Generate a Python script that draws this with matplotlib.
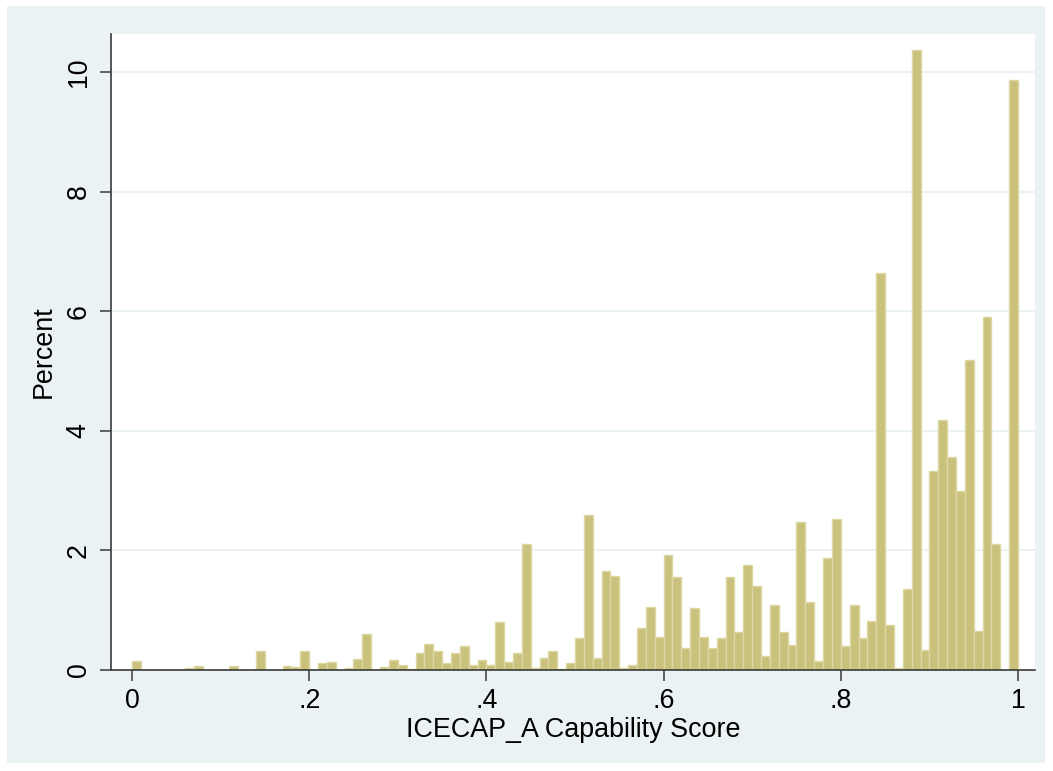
import numpy as np
import matplotlib
matplotlib.use("Agg")
import matplotlib.pyplot as plt
from matplotlib.patches import Rectangle

# Percent per bin (bins of width 0.01 from 0 to 1)
percent = [
    0.15, 0, 0, 0, 0, 0, 0.03, 0.07, 0, 0,
    0, 0.07, 0, 0, 0.31, 0, 0, 0.07, 0.045, 0.31,
    0, 0.12, 0.14, 0, 0.03, 0.18, 0.60, 0, 0.05, 0.16,
    0.09, 0.02, 0.28, 0.43, 0.32, 0.12, 0.28, 0.40, 0.08, 0.16,
    0.09, 0.81, 0.13, 0.29, 2.11, 0.04, 0.20, 0.32, 0.02, 0.11,
    0.54, 2.60, 0.20, 1.65, 1.57, 0.04, 0.09, 0.70, 1.05, 0.56,
    1.93, 1.55, 0.37, 1.03, 0.56, 0.37, 0.54, 1.55, 0.63, 1.76,
    1.41, 0.24, 1.09, 0.63, 0.42, 2.47, 1.14, 0.15, 1.88, 2.52,
    0.40, 1.08, 0.54, 0.82, 6.65, 0.75, 0.03, 1.36, 10.37, 0.33,
    3.33, 4.19, 3.56, 3.00, 5.19, 0.66, 5.90, 2.11, 0, 9.87,
]
x_range = (0.0, 1.0)
x_ticks = [0, 0.2, 0.4, 0.6, 0.8, 1.0]
x_ticklabels = ["0", ".2", ".4", ".6", ".8", "1"]
y_ticks = [0, 2, 4, 6, 8, 10]
y_ticklabels = ["0", "2", "4", "6", "8", "10"]
x_label = "ICECAP_A Capability Score"
y_label = "Percent"

plt.rcParams['font.family'] = ['Liberation Sans', 'DejaVu Sans']

W, H = 1053, 771
fig = plt.figure(figsize=(W / 100, H / 100), dpi=100)
fig.patch.set_facecolor('white')
bg = '#eaf2f3'
fig.patches.append(Rectangle((7 / W, 8 / H), (1045 - 7) / W, (763 - 6) / H,
                             transform=fig.transFigure, facecolor=bg,
                             edgecolor='none', zorder=-10))

ax = fig.add_axes([111 / W, (H - 670) / H, (1035 - 111) / W, (670 - 34) / H])
ax.set_facecolor('white')

edges = np.linspace(x_range[0], x_range[1], len(percent) + 1)
ax.bar(edges[:-1], percent, width=np.diff(edges), align='edge',
       color='#c9c17c', edgecolor='#dcd7a3', linewidth=1.0, zorder=2)

ax.set_xlim(-0.0237, 1.0192)
ax.set_ylim(0, 10.64)

for yt in y_ticks[1:]:
    ax.axhline(yt, color=bg, linewidth=1.4, zorder=1)

ax.set_xticks(x_ticks)
ax.set_xticklabels(x_ticklabels)
ax.set_yticks(y_ticks)
ax.set_yticklabels(y_ticklabels, rotation=90, va='center')

for s in ['top', 'right']:
    ax.spines[s].set_visible(False)
for s in ['left', 'bottom']:
    ax.spines[s].set_color('#3a3a3a')
    ax.spines[s].set_linewidth(1.2)
    ax.spines[s].set_zorder(5)

ax.tick_params(axis='both', direction='out', length=8, width=1.1,
               color='#3a3a3a', labelsize=19.3, labelcolor='black')
ax.tick_params(axis='x', pad=5)
ax.tick_params(axis='y', pad=6)

ax.set_xlabel(x_label, fontsize=19.4, labelpad=2)
ax.set_ylabel(y_label, fontsize=19.4, labelpad=6)

fig.savefig('out.png', dpi=100, facecolor=fig.get_facecolor())
